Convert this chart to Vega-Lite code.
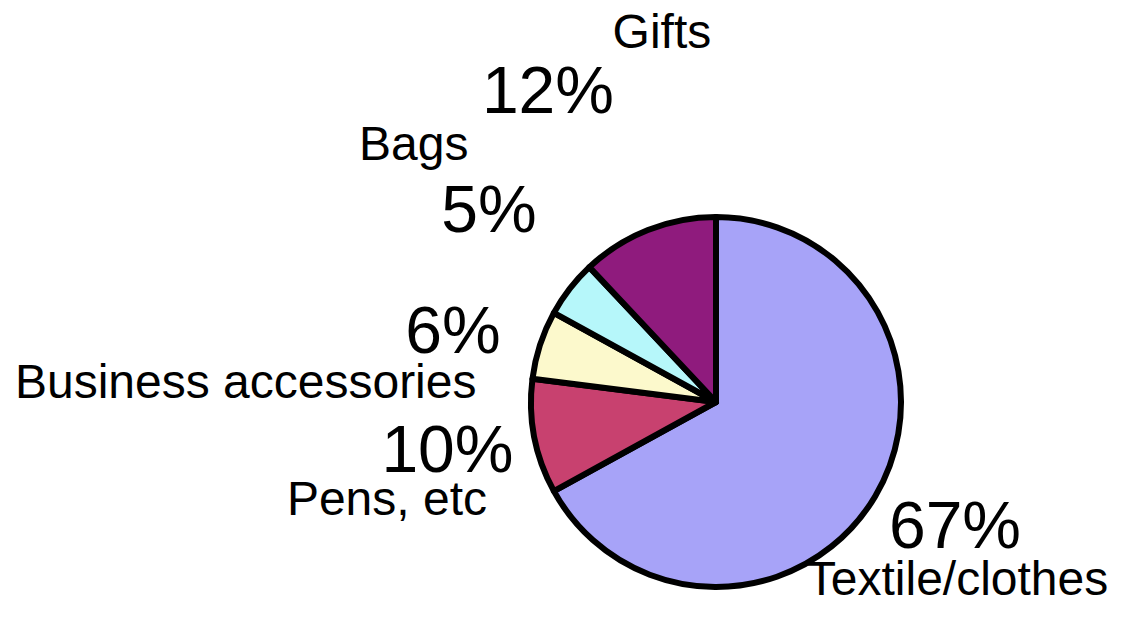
{
  "$schema": "https://vega.github.io/schema/vega-lite/v6.json",
  "width": 400,
  "height": 400,
  "autosize": {"type": "none"},
  "padding": {"left": 516, "top": 202, "right": 217, "bottom": 16},
  "background": "white",
  "config": {"view": {"stroke": null}},
  "data": {
    "values": [
      {"category": "Textile/clothes", "value": 0.67, "idx": 1},
      {"category": "Pens, etc", "value": 0.10, "idx": 2},
      {"category": "Business accessories", "value": 0.06, "idx": 3},
      {"category": "Bags", "value": 0.05, "idx": 4},
      {"category": "Gifts", "value": 0.12, "idx": 5}
    ]
  },
  "encoding": {
    "theta": {"field": "value", "type": "quantitative", "stack": true},
    "order": {"field": "idx", "type": "quantitative"}
  },
  "layer": [
    {
      "mark": {"type": "arc", "outerRadius": 185, "stroke": "black", "strokeWidth": 6, "strokeJoin": "round"},
      "encoding": {
        "color": {
          "field": "category",
          "type": "nominal",
          "scale": {
            "domain": ["Textile/clothes", "Pens, etc", "Business accessories", "Bags", "Gifts"],
            "range": ["#a7a3f8", "#c8416f", "#fcf9cc", "#b6f7fa", "#8f1b7d"]
          },
          "legend": null
        }
      }
    },
    {
      "mark": {
        "type": "text",
        "radius": 280,
        "font": "Liberation Sans",
        "fontSize": 66,
        "align": "center",
        "baseline": "alphabetic",
        "fill": "black",
        "dx": {"expr": "datum.idx == 1 ? -2 : datum.idx == 2 ? 6.5 : datum.idx == 3 ? 3.3 : datum.idx == 4 ? -5.7 : -65"},
        "dy": {"expr": "datum.idx == 1 ? 3.5 : datum.idx == 2 ? 17.5 : datum.idx == 3 ? 37.5 : datum.idx == 4 ? 1.6 : -28.7"}
      },
      "encoding": {
        "detail": {"field": "category", "type": "nominal"},
        "text": {"field": "value", "type": "quantitative", "format": ".0%"}
      }
    },
    {
      "mark": {
        "type": "text",
        "radius": 280,
        "font": "Liberation Sans",
        "fontSize": 48,
        "align": "center",
        "baseline": "alphabetic",
        "fill": "black",
        "dx": {"expr": "datum.idx == 1 ? 0.5 : datum.idx == 2 ? -54 : datum.idx == 3 ? -204 : datum.idx == 4 ? -81 : 49"},
        "dy": {"expr": "datum.idx == 1 ? 50.5 : datum.idx == 2 ? 60.5 : datum.idx == 3 ? 82.5 : datum.idx == 4 ? -70.4 : -93.7"}
      },
      "encoding": {
        "detail": {"field": "category", "type": "nominal"},
        "text": {"field": "category", "type": "nominal"}
      }
    }
  ]
}
